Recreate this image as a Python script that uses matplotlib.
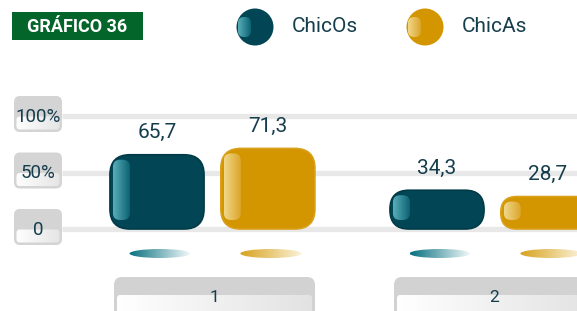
import numpy as np
import matplotlib
matplotlib.use("Agg")
import matplotlib.pyplot as plt
from matplotlib.patches import FancyBboxPatch, Ellipse, Circle, Rectangle
from matplotlib.colors import to_rgba

# ---------------- data ----------------
categories = ["1", "2"]
series_names = ["ChicOs", "ChicAs"]
chicos = [65.7, 34.3]
chicas = [71.3, 28.7]
y_ticks = [0, 50, 100]
y_tick_labels = ["0", "50%", "100%"]
title_text = "GRÁFICO 36"

series_colors = ["#024655", "#d39500"]
edge_colors = ["#013a47", "#d9a01a"]
hl_left = ["#5aaebb", "#f0d88a"]
hl_right = ["#0b6272", "#dba52a"]
ell_left = ["#07707f", "#d7a21e"]
ell_right = ["#f4fafb", "#fbf2d8"]
text_color = "#153d4c"

plt.rcParams['font.family'] = ['Roboto', 'DejaVu Sans']

W, H = 577, 311
fig = plt.figure(figsize=(W / 100, H / 100), dpi=100)
deco = fig.add_axes([0, 0, 1, 1])
deco.set_xlim(0, W)
deco.set_ylim(H, 0)
deco.axis('off')
ax = fig.add_axes([0, 0, 1, 1])
ax.patch.set_alpha(0)
ax.axis('off')

# scale: group spacing 280 px, 1.13 px per percentage point
PX_X, X0 = 280.0, 213.0
PX_Y, Y0 = 1.13, 229.0
ax.set_xlim(-X0 / PX_X, (W - X0) / PX_X)
ax.set_ylim(-(H - Y0) / PX_Y, Y0 / PX_Y)
ASPECT = PX_X / PX_Y


def dx(p):
    return p / PX_X


def dy(p):
    return p / PX_Y


def px2x(p):
    return (p - X0) / PX_X


def rbox(axis, x, y, w, h, r, aspect, **kw):
    p = FancyBboxPatch((x, y), w, h, boxstyle=f"round,pad=0,rounding_size={r}",
                       mutation_aspect=aspect, **kw)
    axis.add_patch(p)
    return p


def gradient(axis, extent, cl, cr, clip, zorder):
    a = np.array(to_rgba(cl))
    b = np.array(to_rgba(cr))
    t = np.linspace(0, 1, 128)[None, :, None]
    img = a * (1 - t) + b * t
    im = axis.imshow(img, extent=extent, aspect='auto', zorder=zorder,
                     interpolation='bilinear')
    im.set_clip_path(clip)
    return im


# ---------------- gridlines ----------------
ax.hlines(y_ticks, px2x(62), ax.get_xlim()[1], colors="#e8e8e8", lw=3.8, zorder=1)

# ---------------- y tick label boxes ----------------
for v, lab in zip(y_ticks, y_tick_labels):
    bx0, bx1 = px2x(14), px2x(62)
    top = v + dy(20)
    bot = v - dy(16)
    rbox(ax, bx0, bot, bx1 - bx0, top - bot, dx(6), ASPECT,
         fc="#d4d4d4", ec="none", zorder=2)
    ib = rbox(ax, bx0 + dx(2.5), bot + dy(2.5), bx1 - bx0 - dx(5), dy(13),
              dx(3), ASPECT, fc="none", ec="none", zorder=2)
    gradient(ax, (bx0, bx1, bot, v), "#ffffff", "#e4e4e4", ib, 2.1)
    ax.text((bx0 + bx1) / 2, v - dy(1), lab, ha='center', va='center',
            fontsize=13.5, color=text_color, zorder=4)

# ---------------- bars ----------------
offsets = [-0.2, 0.196]
width = 0.336
for si, vals in enumerate([chicos, chicas]):
    for gi, v in enumerate(vals):
        xc = gi + offsets[si]
        x0 = xc - width / 2
        hpx = v * PX_Y
        r_px = min(20, hpx / 2 - 0.5)
        rbox(ax, x0, 0, width, v, dx(r_px), ASPECT, fc=series_colors[si],
             ec=edge_colors[si], lw=1.2, zorder=3)
        # glossy highlight
        hb, ht = dy(9), v - dy(5)
        hx0, hx1 = x0 + dx(3), x0 + dx(20)
        hl = rbox(ax, hx0, hb, hx1 - hx0, ht - hb, dx(min(7, (ht - hb) * PX_Y / 2 - 0.5)),
                  ASPECT, fc="none", ec="none", zorder=3.1)
        gradient(ax, (hx0, hx1, hb, ht), hl_left[si], hl_right[si], hl, 3.2)
        # value label
        ax.annotate(f"{v:.1f}".replace('.', ','), (xc, v), xytext=(0, 16),
                    textcoords='offset points', ha='center', va='center',
                    fontsize=15, color=text_color, zorder=5)
        # shadow ellipse
        ecx = xc + dx(3)
        ecy = -dy(24.5)
        ew, eh = dx(61), dy(9)
        el = Ellipse((ecx, ecy), ew, eh, fc="none", ec="none", zorder=2)
        ax.add_patch(el)
        gradient(ax, (ecx - ew / 2, ecx + ew / 2, ecy - eh / 2, ecy + eh / 2),
                 ell_left[si], ell_right[si], el, 2.2)

# ---------------- category boxes ----------------
for gi, cat in enumerate(categories):
    cx0, cx1 = gi + dx(-99), gi + dx(102)
    ctop = -dy(277 - Y0)
    cbot = -dy(330 - Y0)
    rbox(ax, cx0, cbot, cx1 - cx0, ctop - cbot, dx(8), ASPECT,
         fc="#d2d2d2", ec="none", zorder=2)
    itop = -dy(295 - Y0)
    ib = rbox(ax, cx0 + dx(3), cbot, cx1 - cx0 - dx(6), itop - cbot, dx(3), ASPECT,
              fc="none", ec="none", zorder=2)
    gradient(ax, (cx0, cx1, cbot, itop), "#ffffff", "#e2e2e2", ib, 2.1)
    ax.text((cx0 + cx1) / 2, -dy(297 - Y0), cat, ha='center', va='center',
            fontsize=12.5, color=text_color, zorder=4)

# ---------------- title badge ----------------
deco.add_patch(Rectangle((12, 12), 131, 28, fc="#03652a", ec="none"))
deco.text(77.5, 26.5, title_text, ha='center', va='center', color='white',
          fontsize=13, fontweight='bold')

# ---------------- legend ----------------
for si, (name, cx, tx) in enumerate(zip(series_names, [255, 425], [292, 462])):
    deco.add_patch(Circle((cx, 27), 18.5, fc=series_colors[si], ec="none", zorder=3))
    hl = rbox(deco, cx - 17, 17, 13, 20, 6, 1, fc="none", ec="none", zorder=3)
    gradient(deco, (cx - 17, cx - 4, 37, 17), hl_left[si], hl_right[si], hl, 3.2)
    deco.text(tx, 27, name, ha='left', va='center', fontsize=15, color=text_color)

fig.savefig("out.png", dpi=100)
